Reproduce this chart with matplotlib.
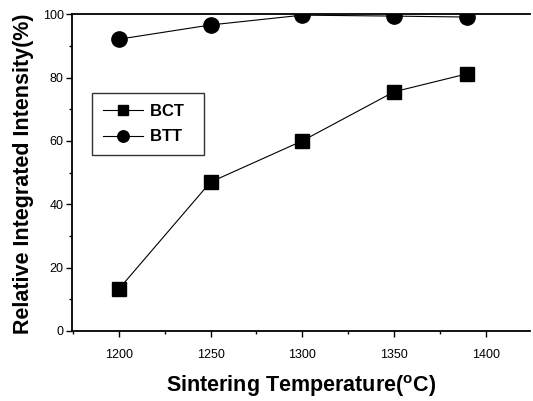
import matplotlib
matplotlib.use("Agg")
import matplotlib.pyplot as plt
from matplotlib.ticker import MultipleLocator

plt.rcParams['font.family'] = ['Liberation Sans', 'DejaVu Sans']

temps = [1200, 1250, 1300, 1350, 1390]
bct = [13.2, 47.0, 60.0, 75.5, 81.2]
btt = [92.1, 96.6, 99.7, 99.4, 99.1]
xticks = [1200, 1250, 1300, 1350, 1400]
yticks = [0, 20, 40, 60, 80, 100]

fig = plt.figure(figsize=(5.33, 4.01), dpi=100)
ax = fig.add_axes([0.135, 0.1746, 0.859, 0.79])

ax.plot(temps, bct, color='black', lw=0.8, marker='s', markersize=10.5,
        markerfacecolor='black', label='BCT')
ax.plot(temps, btt, color='black', lw=0.8, marker='o', markersize=11,
        markerfacecolor='black', label='BTT')

ax.set_xlim(1174.5, 1424)
ax.set_ylim(0, 100)
ax.set_xticks(xticks)
ax.set_yticks(yticks)
ax.xaxis.set_minor_locator(MultipleLocator(25))
ax.yaxis.set_minor_locator(MultipleLocator(10))
ax.tick_params(axis='both', which='major', direction='out', length=4, width=1,
               labelsize=9, pad=2)
ax.tick_params(axis='both', which='minor', direction='out', length=2.5, width=1)
ax.tick_params(axis='x', pad=9)

for s in ['left', 'bottom', 'top']:
    ax.spines[s].set_linewidth(1.3)
ax.spines['right'].set_visible(False)

ax.set_xlabel('Sintering Temperature($^{\\mathregular{o}}$C)', fontsize=15.5,
              fontweight='bold', labelpad=9)
ax.set_ylabel('Relative Integrated Intensity(%)', fontsize=15.5,
              fontweight='bold', labelpad=6, y=0.497)

leg = ax.legend(loc='upper left', bbox_to_anchor=(0.044, 0.752),
                prop={'weight': 'bold', 'size': 12}, frameon=True, fancybox=False,
                edgecolor='black', handlelength=2.4, markerscale=0.75,
                borderpad=0.65, labelspacing=0.65, handletextpad=0.4,
                borderaxespad=0)
leg.get_frame().set_linewidth(1.0)
for t in leg.get_texts():
    t.set_text(t.get_text() + '  ')

fig.savefig('out.png', dpi=100)
